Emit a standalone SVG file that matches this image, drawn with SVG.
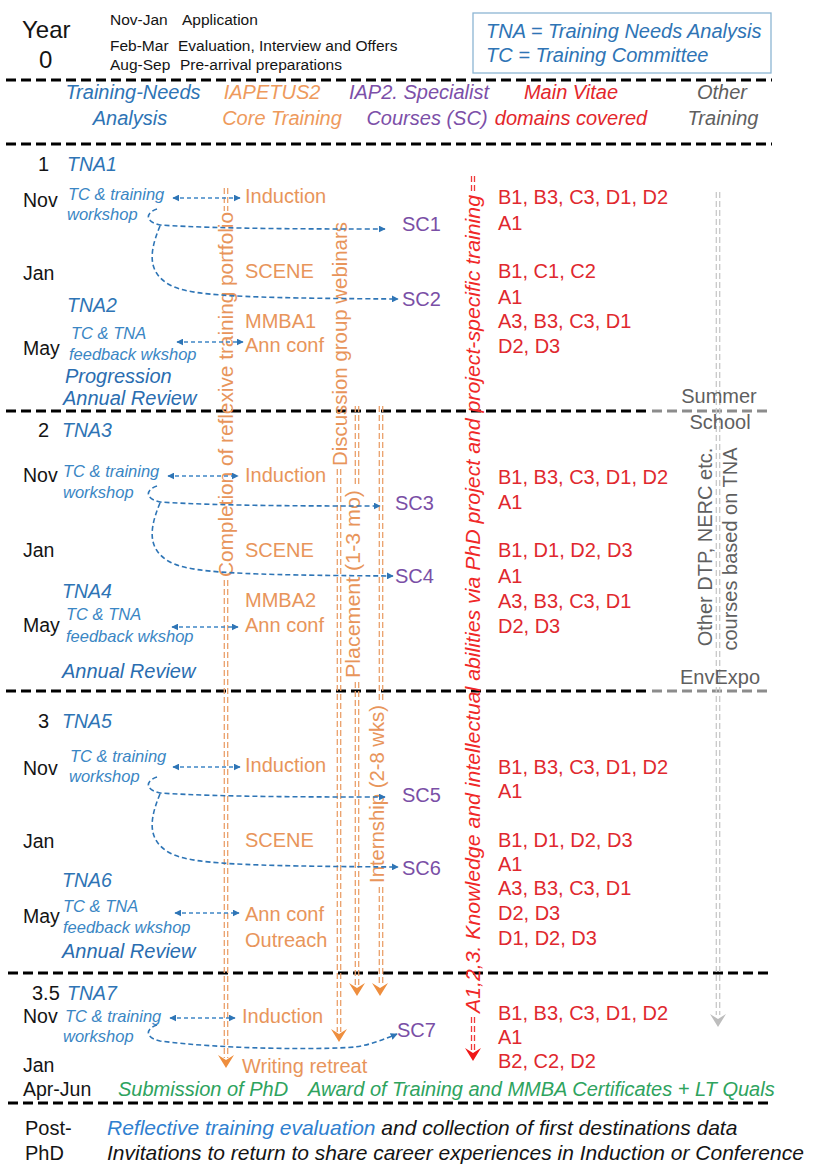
<svg xmlns="http://www.w3.org/2000/svg" width="817" height="1165" viewBox="0 0 817 1165">
<defs>
<style>
text{font-family:"Liberation Sans",Arial,sans-serif}
.blk{fill:#141414}
.mo{font-size:19.5px;fill:#141414}
.yr{font-size:20px;fill:#141414}
.small{font-size:15.5px;fill:#141414}
.it{font-style:italic}
.tna{font-style:italic;font-size:19.5px;fill:#2E74B5}
.tc{font-style:italic;font-size:16.5px;fill:#3A86C4}
.rev{font-style:italic;font-size:20px;fill:#2A6DB0}
.core{font-size:20px;fill:#E8955B}
.sc{font-size:20px;fill:#7A4FA6}
.vit{font-size:20px;fill:#E0282E}
.hd{font-style:italic;font-size:20px}
.grn{font-style:italic;font-size:20px;fill:#2EA35E}
.sep{stroke:#000;stroke-width:3;stroke-dasharray:10 5;fill:none}
.sepg{stroke:#8C8C8C;stroke-width:3;stroke-dasharray:10 5;fill:none}
.conn{stroke:#2E75B6;stroke-width:1.6;stroke-dasharray:5 3;fill:none}
.dconn{stroke:#3F87C6;stroke-width:1.4;stroke-dasharray:4 3;fill:none}
.dbl{stroke:#EBA06A;stroke-width:1.3;stroke-dasharray:6 3;fill:none}
.dblr{stroke:#F03A3A;stroke-width:1.3;stroke-dasharray:6 3;fill:none}
.dblg{stroke:#C9C9C9;stroke-width:1.3;stroke-dasharray:6 3;fill:none}
.vt{font-size:21px;fill:#E8955B}
.vr{font-style:italic;font-size:20px;fill:#F02828}
.gt{font-size:20px;fill:#5F5F5F}
</style>
<marker id="ab" viewBox="0 0 10 10" refX="9" refY="5" markerWidth="7" markerHeight="7" markerUnits="userSpaceOnUse" orient="auto-start-reverse">
<path d="M0,0 L10,5 L0,10 z" fill="#2E75B6"/>
</marker>
<path id="chev" d="M0,0 L-8,-13 L0,-8 L8,-13 Z"/>
</defs>
<rect width="817" height="1165" fill="#fff"/>

<g id="separators">
<path class="sep" d="M6,80 H772"/>
<path class="sep" d="M6,144 H772"/>
<path class="sep" d="M6,411 H650"/>
<path class="sepg" d="M652,411 H772"/>
<path class="sep" d="M6,691 H650"/>
<path class="sepg" d="M652,691 H772"/>
<path class="sep" d="M8,973 H772"/>
<path class="sep" d="M8,1103 H772"/>
</g>

<g id="year0">
<text class="blk" x="22" y="38" font-size="24">Year</text>
<text class="blk" x="39" y="68" font-size="24">0</text>
<text class="small" x="110" y="25">Nov-Jan</text>
<text class="small" x="182" y="25">Application</text>
<text class="small" x="110" y="51">Feb-Mar</text>
<text class="small" x="178" y="51">Evaluation, Interview and Offers</text>
<text class="small" x="110" y="70">Aug-Sep</text>
<text class="small" x="180" y="70">Pre-arrival preparations</text>
</g>

<g id="legend">
<rect x="473" y="13" width="298" height="60" fill="#fff" stroke="#8DB5D3" stroke-width="1.3"/>
<text class="hd" x="486" y="38" fill="#2E74B5">TNA = Training Needs Analysis</text>
<text class="hd" x="486" y="62" fill="#2E74B5">TC = Training Committee</text>
</g>

<g id="headers" text-anchor="middle">
<text class="hd" x="133" y="99" fill="#2E74B5">Training-Needs</text>
<text class="hd" x="130" y="125" fill="#2E74B5">Analysis</text>
<text class="hd" x="272" y="99" fill="#EE9A5C">IAPETUS2</text>
<text class="hd" x="282" y="125" fill="#EE9A5C">Core Training</text>
<text class="hd" x="419" y="99" fill="#7C4FA8">IAP2. Specialist</text>
<text class="hd" x="427" y="125" fill="#7C4FA8">Courses (SC)</text>
<text class="hd" x="571" y="99" fill="#E3262B">Main Vitae</text>
<text class="hd" x="571" y="125" fill="#E3262B">domains covered</text>
<text class="hd" x="722" y="99" fill="#5F5F5F">Other</text>
<text class="hd" x="723" y="125" fill="#5F5F5F">Training</text>
</g>

<g id="vertical-lines">
<g id="v-portfolio">
<path class="dbl" d="M224.3,188 V211 M227.7,188 V211 M224.3,580 V1058 M227.7,580 V1058"/>
<use href="#chev" x="226" y="1068" fill="#EE8E3E"/>
<text class="vt" transform="translate(233,394.5) rotate(-90)" text-anchor="middle" textLength="365" lengthAdjust="spacingAndGlyphs">Completion of reflexive training portfolio</text>
</g>
<g id="v-webinars">
<path class="dbl" d="M337.3,469 V1032 M340.7,469 V1032"/>
<use href="#chev" x="339" y="1042" fill="#EE8E3E"/>
<text class="vt" transform="translate(347,344) rotate(-90)" text-anchor="middle" textLength="244" lengthAdjust="spacingAndGlyphs">Discussion group webinars</text>
</g>
<g id="v-placement">
<path class="dbl" d="M355.3,406 V487 M358.7,406 V487 M355.3,682 V985 M358.7,682 V985"/>
<use href="#chev" x="357" y="996" fill="#EE8E3E"/>
<text class="vt" transform="translate(360,584) rotate(-90)" text-anchor="middle" textLength="188" lengthAdjust="spacingAndGlyphs">Placement (1-3 mo)</text>
</g>
<g id="v-internship">
<path class="dbl" d="M379.3,406 V702 M382.7,406 V702 M379.3,887 V985 M382.7,887 V985"/>
<use href="#chev" x="380" y="996" fill="#EE8E3E"/>
<text class="vt" transform="translate(384,794) rotate(-90)" text-anchor="middle" textLength="178" lengthAdjust="spacingAndGlyphs">Internship (2-8 wks)</text>
</g>
<g id="v-knowledge">
<path class="dblr" d="M471.5,176 V193 M474.5,176 V193 M471.5,1017 V1050 M474.5,1017 V1050"/>
<use href="#chev" x="473" y="1061" fill="#F01818"/>
<text class="vr" transform="translate(480,604) rotate(-90)" text-anchor="middle" textLength="818" lengthAdjust="spacingAndGlyphs">A1,2,3. Knowledge and intellectual abilities via PhD project and project-specific training</text>
</g>
<g id="v-other">
<path class="dblg" d="M716.3,192 V1015 M719.7,192 V1015"/>
<use href="#chev" x="718" y="1027" fill="#BDBDBD"/>
<text class="gt" transform="translate(712,547) rotate(-90)" text-anchor="middle">Other DTP, NERC etc.</text>
<text class="gt" transform="translate(737,549) rotate(-90)" text-anchor="middle">courses based on TNA</text>
<text class="gt" x="719" y="403" text-anchor="middle">Summer</text>
<text class="gt" x="720" y="429" text-anchor="middle">School</text>
<text class="gt" x="720" y="684" text-anchor="middle">EnvExpo</text>
</g>
</g>

<g id="connectors">
<path class="dconn" d="M173,198 H240" marker-start="url(#ab)" marker-end="url(#ab)"/>
<path class="dconn" d="M177,342 H243" marker-start="url(#ab)" marker-end="url(#ab)"/>
<path class="conn" d="M157,209 C147,212 143,221 160,225 C220,229 320,229 385,229" marker-end="url(#ab)"/>
<path class="conn" d="M160,226 C150,250 146,272 170,285 C190,296 240,298 398,299" marker-end="url(#ab)"/>

<path class="dconn" d="M168,476 H238" marker-start="url(#ab)" marker-end="url(#ab)"/>
<path class="dconn" d="M172,627 H238" marker-start="url(#ab)" marker-end="url(#ab)"/>
<path class="conn" d="M157,486 C147,489 143,498 160,502 C220,506 320,506 380,506" marker-end="url(#ab)"/>
<path class="conn" d="M160,503 C150,527 146,549 170,562 C190,573 240,575 393,576" marker-end="url(#ab)"/>

<path class="dconn" d="M173,767 H240" marker-start="url(#ab)" marker-end="url(#ab)"/>
<path class="dconn" d="M175,913 H239" marker-start="url(#ab)" marker-end="url(#ab)"/>
<path class="conn" d="M157,777 C147,780 143,789 160,793 C220,797 320,797 385,797" marker-end="url(#ab)"/>
<path class="conn" d="M160,794 C150,818 146,840 170,853 C190,864 240,866 398,867" marker-end="url(#ab)"/>

<path class="dconn" d="M170,1018 H235" marker-start="url(#ab)" marker-end="url(#ab)"/>
<path class="conn" d="M157,1025 C147,1028 143,1037 160,1041 C220,1049 320,1050 355,1047 C370,1045 385,1039 397,1034" marker-end="url(#ab)"/>
</g>

<g id="year1">
<text class="yr" x="38" y="171">1</text>
<text class="tna" x="67" y="171">TNA1</text>
<text class="mo" x="23" y="207">Nov</text>
<text class="tc" x="68" y="200">TC &amp; training</text>
<text class="tc" x="67" y="220">workshop</text>
<text class="mo" x="23" y="280">Jan</text>
<text class="tna" x="67" y="312">TNA2</text>
<text class="tc" x="71" y="339">TC &amp; TNA</text>
<text class="mo" x="23" y="355">May</text>
<text class="tc" x="69" y="360">feedback wkshop</text>
<text class="rev" x="65" y="383" font-size="19">Progression</text>
<text class="rev" x="63" y="405" font-size="19">Annual Review</text>
<text class="core" x="245" y="203">Induction</text>
<text class="core" x="245" y="278">SCENE</text>
<text class="core" x="245" y="328">MMBA1</text>
<text class="core" x="245" y="352">Ann conf</text>
<text class="sc" x="402" y="231">SC1</text>
<text class="sc" x="402" y="306">SC2</text>
<text class="vit" x="498" y="204">B1, B3, C3, D1, D2</text>
<text class="vit" x="498" y="230">A1</text>
<text class="vit" x="498" y="278">B1, C1, C2</text>
<text class="vit" x="498" y="304">A1</text>
<text class="vit" x="498" y="328">A3, B3, C3, D1</text>
<text class="vit" x="498" y="353">D2, D3</text>
</g>

<g id="year2">
<text class="yr" x="38" y="437">2</text>
<text class="tna" x="62" y="437">TNA3</text>
<text class="mo" x="23" y="482">Nov</text>
<text class="tc" x="63" y="477">TC &amp; training</text>
<text class="tc" x="63" y="498">workshop</text>
<text class="mo" x="23" y="557">Jan</text>
<text class="tna" x="62" y="598">TNA4</text>
<text class="tc" x="66" y="620">TC &amp; TNA</text>
<text class="mo" x="23" y="632">May</text>
<text class="tc" x="66" y="642">feedback wkshop</text>
<text class="rev" x="62" y="678">Annual Review</text>
<text class="core" x="245" y="482">Induction</text>
<text class="core" x="245" y="557">SCENE</text>
<text class="core" x="245" y="607">MMBA2</text>
<text class="core" x="245" y="632">Ann conf</text>
<text class="sc" x="395" y="510">SC3</text>
<text class="sc" x="395" y="583">SC4</text>
<text class="vit" x="498" y="484">B1, B3, C3, D1, D2</text>
<text class="vit" x="498" y="509">A1</text>
<text class="vit" x="498" y="557">B1, D1, D2, D3</text>
<text class="vit" x="498" y="583">A1</text>
<text class="vit" x="498" y="608">A3, B3, C3, D1</text>
<text class="vit" x="498" y="633">D2, D3</text>
</g>

<g id="year3">
<text class="yr" x="38" y="728">3</text>
<text class="tna" x="62" y="728">TNA5</text>
<text class="mo" x="23" y="775">Nov</text>
<text class="tc" x="70" y="762">TC &amp; training</text>
<text class="tc" x="69" y="782">workshop</text>
<text class="mo" x="23" y="848">Jan</text>
<text class="tna" x="62" y="887">TNA6</text>
<text class="tc" x="63" y="912">TC &amp; TNA</text>
<text class="mo" x="23" y="923">May</text>
<text class="tc" x="63" y="933">feedback wkshop</text>
<text class="rev" x="62" y="958">Annual Review</text>
<text class="core" x="245" y="772">Induction</text>
<text class="core" x="245" y="847">SCENE</text>
<text class="core" x="245" y="921">Ann conf</text>
<text class="core" x="245" y="947">Outreach</text>
<text class="sc" x="402" y="802">SC5</text>
<text class="sc" x="402" y="875">SC6</text>
<text class="vit" x="498" y="774">B1, B3, C3, D1, D2</text>
<text class="vit" x="498" y="798">A1</text>
<text class="vit" x="498" y="847">B1, D1, D2, D3</text>
<text class="vit" x="498" y="871">A1</text>
<text class="vit" x="498" y="895">A3, B3, C3, D1</text>
<text class="vit" x="498" y="920">D2, D3</text>
<text class="vit" x="498" y="945">D1, D2, D3</text>
</g>

<g id="year35">
<text class="yr" x="32" y="1000">3.5</text>
<text class="tna" x="67" y="1000">TNA7</text>
<text class="mo" x="23" y="1023">Nov</text>
<text class="tc" x="65" y="1022">TC &amp; training</text>
<text class="tc" x="63" y="1042">workshop</text>
<text class="mo" x="23" y="1072">Jan</text>
<text class="core" x="242" y="1023">Induction</text>
<text class="core" x="242" y="1073">Writing retreat</text>
<text class="sc" x="397" y="1037">SC7</text>
<text class="vit" x="498" y="1020">B1, B3, C3, D1, D2</text>
<text class="vit" x="498" y="1044">A1</text>
<text class="vit" x="498" y="1068">B2, C2, D2</text>
</g>

<g id="submission">
<text class="mo" x="23" y="1096">Apr-Jun</text>
<text class="grn" x="118" y="1096">Submission of PhD</text>
<text class="grn" x="308" y="1096">Award of Training and MMBA Certificates + LT Quals</text>
</g>

<g id="postphd">
<text class="yr" x="25" y="1135">Post-</text>
<text class="yr" x="25" y="1160">PhD</text>
<text class="it" x="107" y="1135" font-size="21"><tspan fill="#2F80D0">Reflective training evaluation</tspan><tspan fill="#141414"> and collection of first destinations data</tspan></text>
<text class="it" x="107" y="1160" font-size="21" fill="#141414">Invitations to return to share career experiences in Induction or Conference</text>
</g>
</svg>
